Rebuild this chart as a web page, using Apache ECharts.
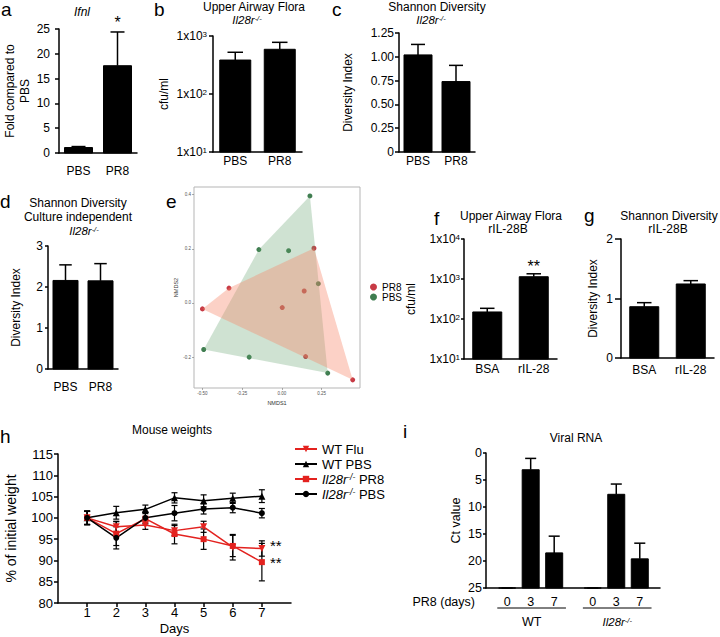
<!DOCTYPE html>
<html><head><meta charset="utf-8">
<script src="https://cdn.jsdelivr.net/npm/echarts@6/dist/echarts.min.js"></script>
<style>html,body{margin:0;padding:0;background:#fff}#c{width:720px;height:637px}</style>
</head><body><div id="c"></div>
<script>
const FONT = '"Liberation Sans", Arial, Helvetica, sans-serif';

// ---- panel a
const aCats = ['PBS', 'PR8'];
const aMean = [1.1, 17.6];
const aErr = [1.3, 24.4];
const aSig = ['', '*'];
// ---- panel b
const bCats = ['PBS', 'PR8'];
const bMean = [385, 590];
const bErr = [524, 778];
// ---- panel c
const cCats = ['PBS', 'PR8'];
const cMean = [1.02, 0.74];
const cErr = [1.13, 0.91];
// ---- panel d
const dCats = ['PBS', 'PR8'];
const dMean = [2.16, 2.15];
const dErr = [2.54, 2.57];
// ---- panel e (NMDS)
const ePR8 = [[-0.5, -0.022], [-0.333, 0.055], [0.2015, 0.202], [0.14, 0.044], [0.002, -0.017], [0.149, -0.198], [0.445, -0.284]];
const ePBS = [[0.176, 0.395], [-0.145, 0.197], [0.042, 0.193], [0.229, 0.071], [-0.492, -0.172], [-0.206, -0.2], [0.288, -0.259]];
const eTicksX = [-0.5, -0.25, 0, 0.25];
const eTicksY = [-0.2, 0, 0.2, 0.4];
// ---- panel f
const fCats = ['BSA', 'rIL-28'];
const fMean = [150, 1140];
const fErr = [185, 1350];
const fSig = ['', '**'];
// ---- panel g
const gCats = ['BSA', 'rIL-28'];
const gMean = [0.862, 1.244];
const gErr = [0.93, 1.30];
// ---- panel h
const hDays = [1, 2, 3, 4, 5, 6, 7];
const hWTFlu = [100, 97.9, 98.3, 97.0, 97.9, 93.1, 92.8];
const hWTFluSem = [1.6, 1.3, 1.0, 1.2, 1.3, 3.0, 1.8];
const hWTPBS = [100, 101.2, 102.0, 104.7, 104.0, 104.6, 105.1];
const hWTPBSSem = [1.6, 1.5, 1.0, 1.2, 1.4, 1.2, 1.5];
const hKOPR8 = [100, 96.3, 99.8, 96.2, 95.0, 93.4, 89.6];
const hKOPR8Sem = [1.5, 2.8, 1.5, 2.3, 2.4, 2.5, 4.4];
const hKOPBS = [100, 95.3, 100.0, 101.1, 102.1, 102.4, 101.1];
const hKOPBSSem = [1.6, 2.6, 1.3, 1.8, 1.2, 1.2, 1.1];
const hSigSeries = ['WT Flu', 'Il28r-/- PR8'];
// ---- panel i
const iGroups = ['WT', 'Il28r-/-'];
const iDays = ['0', '3', '7', '0', '3', '7'];
const iCt = [25, 3.1, 18.5, 25, 7.65, 19.6];
const iErr = [25, 1.0, 15.4, 25, 5.75, 16.7];

// ---------------------------------------------------------------
const RICH = {
  i: {fontStyle: 'italic', fontSize: 11.5, fontFamily: FONT, color: '#000', fill: '#000', lineHeight: 11},
  s: {fontStyle: 'italic', fontSize: 7.5, fontFamily: FONT, verticalAlign: 'top', color: '#000', fill: '#000', lineHeight: 11},
  n: {fontSize: 12, fontFamily: FONT, color: '#000', fill: '#000'}
};
const RICH13 = {
  i: {fontStyle: 'italic', fontSize: 13, fontFamily: FONT, color: '#000'},
  s: {fontStyle: 'italic', fontSize: 8.5, fontFamily: FONT, verticalAlign: 'top', color: '#000'},
  n: {fontSize: 13, fontFamily: FONT, color: '#000'}
};
const SUP = {s: {fontSize: 8, fontFamily: FONT, verticalAlign: 'top', color: '#000'}};
function koText(name) { // 'Il28r-/-' -> rich text
  return name.replace('Il28r-/-', '{i|Il28r}{s|-/-}');
}

const grids = [], xAxes = [], yAxes = [], series = [], graphics = [];

function barRender(base, bw, capFrac, sig, sigOff, sigSize) {
  return function (params, api) {
    const x = api.value(0), v = api.value(1), e = api.value(2);
    const p = api.coord([x, v]), b = api.coord([x, base]), pe = api.coord([x, e]);
    const top = Math.min(p[1], b[1]), h = Math.abs(b[1] - p[1]);
    const cw = bw * capFrac;
    const children = [
      {type: 'rect', shape: {x: p[0] - bw / 2, y: top, width: bw, height: h}, style: {fill: '#000', stroke: '#000', lineWidth: 1}},
      {type: 'line', shape: {x1: p[0], y1: p[1], x2: p[0], y2: pe[1]}, style: {stroke: '#000', lineWidth: 1.5}},
      {type: 'line', shape: {x1: p[0] - cw / 2, y1: pe[1], x2: p[0] + cw / 2, y2: pe[1]}, style: {stroke: '#000', lineWidth: 1.5}}
    ];
    if (sig && sig[params.dataIndex]) {
      children.push({type: 'text', x: p[0], y: pe[1] - sigOff,
        style: {text: sig[params.dataIndex], fill: '#000', fontSize: sigSize, fontFamily: FONT, align: 'center', verticalAlign: 'middle', lineHeight: 12}});
    }
    return {type: 'group', children};
  };
}

function addBarPanel(g, cats, mean, err, o) {
  const gi = grids.length;
  grids.push({left: g[0], top: g[1], width: g[2], height: g[3], containLabel: false, outerBoundsMode: 'none'});
  xAxes.push({gridIndex: gi, type: 'category', data: cats, boundaryGap: true,
    axisLine: {show: true, onZero: false, lineStyle: {color: '#000', width: 1.5}},
    axisTick: {show: false},
    axisLabel: {color: '#000', fontSize: 12, fontFamily: FONT, margin: o.xMargin, interval: 0},
    splitLine: {show: false}});
  const y = {gridIndex: gi, type: o.log ? 'log' : 'value', min: o.min, max: o.max,
    axisLine: {show: true, onZero: false, lineStyle: {color: '#000', width: 1.5}},
    axisTick: {show: true, length: o.tick || 4, inside: false, lineStyle: {color: '#000', width: 1.5}},
    minorTick: {show: false},
    axisLabel: {color: '#000', fontSize: 12, fontFamily: FONT, margin: o.yMargin, formatter: o.fmt, rich: SUP},
    splitLine: {show: false},
    name: o.name, nameLocation: 'middle', nameGap: o.nameGap, nameRotate: 90,
    nameTextStyle: {color: '#000', fontSize: 12, fontFamily: FONT, lineHeight: 15}};
  if (o.log) { y.logBase = 10; } else { y.interval = o.interval; }
  yAxes.push(y);
  series.push({type: 'custom', xAxisIndex: gi, yAxisIndex: gi, clip: false, z: 3,
    data: cats.map((c, i) => [i, mean[i], err[i]]),
    renderItem: barRender(o.log ? o.min : 0, o.bw, 0.5, o.sig, o.sigOff || 8, o.sigSize || 16)});
}

const logFmt = v => '1x10{s|' + Math.round(Math.log10(v)) + '}';

// a
addBarPanel([59, 29, 78, 124], aCats, aMean, aErr, {min: 0, max: 25, interval: 5, bw: 28, xMargin: 12, yMargin: 9,
  name: 'Fold compared to\nPBS', nameGap: 24, sig: aSig, sigOff: 9});
// b
addBarPanel([213, 36, 89, 116], bCats, bMean, bErr, {log: true, min: 10, max: 1000, bw: 31, xMargin: 3, yMargin: 6,
  fmt: logFmt, name: 'cfu/ml', nameGap: 42});
// c
addBarPanel([399, 33, 76, 119], cCats, cMean, cErr, {min: 0, max: 1.25, interval: 0.25, bw: 28, xMargin: 3, yMargin: 5,
  fmt: v => v === 0 ? '0' : v.toFixed(2), name: 'Diversity Index', nameGap: 44});
// d
addBarPanel([48, 246, 70, 123], dCats, dMean, dErr, {min: 0, max: 3, interval: 1, bw: 25, xMargin: 12, yMargin: 5, tick: 3,
  name: 'Diversity Index', nameGap: 25});
// f
addBarPanel([464, 239, 93, 120], fCats, fMean, fErr, {log: true, min: 10, max: 10000, bw: 29, xMargin: 4, yMargin: 4, tick: 3,
  fmt: logFmt, name: 'cfu/ml', nameGap: 46, sig: fSig, sigOff: 7});
// g
addBarPanel([621, 239, 93, 119], gCats, gMean, gErr, {min: 0, max: 2, interval: 1, bw: 29, xMargin: 6, yMargin: 8, tick: 6,
  name: 'Diversity Index', nameGap: 21});

// ---- e: NMDS scatter with hulls
(function () {
  const gi = grids.length;
  grids.push({left: 194, top: 187, width: 166, height: 201, show: true, borderColor: '#b5b5b5', borderWidth: 1,
    backgroundColor: '#fff', containLabel: false, outerBoundsMode: 'none'});
  const tiny = {fontSize: 4.5, color: '#555', fontFamily: FONT};
  xAxes.push({gridIndex: gi, type: 'value', min: -0.553, max: 0.491,
    axisLine: {show: false, onZero: false}, splitLine: {show: false},
    axisTick: {show: true, customValues: eTicksX, length: 2, lineStyle: {color: '#777', width: 0.6}},
    axisLabel: Object.assign({customValues: eTicksX, margin: 3, formatter: v => v.toFixed(2)}, tiny),
    name: 'NMDS1', nameLocation: 'middle', nameGap: 12, nameTextStyle: {fontSize: 5.5, color: '#333', fontFamily: FONT}});
  yAxes.push({gridIndex: gi, type: 'value', min: -0.314, max: 0.428,
    axisLine: {show: false, onZero: false}, splitLine: {show: false},
    axisTick: {show: true, customValues: eTicksY, length: 2, lineStyle: {color: '#777', width: 0.6}},
    axisLabel: Object.assign({customValues: eTicksY, margin: 3, formatter: v => v.toFixed(1)}, tiny),
    name: 'NMDS2', nameLocation: 'middle', nameGap: 10, nameRotate: 90, nameTextStyle: {fontSize: 5.5, color: '#333', fontFamily: FONT}});
  function hull(pts) {
    const p = pts.slice().sort((a, b) => a[0] - b[0] || a[1] - b[1]);
    const cross = (o, a, b) => (a[0] - o[0]) * (b[1] - o[1]) - (a[1] - o[1]) * (b[0] - o[0]);
    const lo = [], up = [];
    for (const q of p) { while (lo.length >= 2 && cross(lo[lo.length - 2], lo[lo.length - 1], q) <= 0) lo.pop(); lo.push(q); }
    for (let i = p.length - 1; i >= 0; i--) { const q = p[i]; while (up.length >= 2 && cross(up[up.length - 2], up[up.length - 1], q) <= 0) up.pop(); up.push(q); }
    up.pop(); lo.pop();
    return lo.concat(up);
  }
  function hullSeries(pts, fill, z) {
    const h = hull(pts);
    return {type: 'custom', xAxisIndex: gi, yAxisIndex: gi, z, silent: true, data: [h[0]],
      renderItem: (params, api) => ({type: 'polygon', shape: {points: h.map(q => api.coord(q))}, style: {fill}})};
  }
  series.push({name: 'PR8', type: 'scatter', xAxisIndex: gi, yAxisIndex: gi, data: ePR8, symbolSize: 5, z: 2,
    itemStyle: {color: '#c73a45', opacity: 1}});
  series.push({name: 'PBS', type: 'scatter', xAxisIndex: gi, yAxisIndex: gi, data: ePBS, symbolSize: 5, z: 2,
    itemStyle: {color: '#3f7d50', opacity: 1}});
  series.push(hullSeries(ePBS, 'rgba(95,160,105,0.30)', 3));
  series.push(hullSeries(ePR8, 'rgba(246,135,105,0.38)', 4));
})();

// ---- h: mouse weights
(function () {
  const gi = grids.length;
  grids.push({left: 58, top: 454, width: 233, height: 149, containLabel: false, outerBoundsMode: 'none'});
  xAxes.push({gridIndex: gi, type: 'value', min: 0, max: 8, interval: 1,
    axisLine: {show: true, onZero: false, lineStyle: {color: '#000', width: 1.5}},
    axisTick: {show: true, customValues: hDays, length: 4, lineStyle: {color: '#000', width: 1.5}},
    axisLabel: {customValues: hDays, color: '#000', fontSize: 13, fontFamily: FONT, margin: 3},
    splitLine: {show: false},
    name: 'Days', nameLocation: 'middle', nameGap: 19, nameTextStyle: {color: '#000', fontSize: 13, fontFamily: FONT}});
  yAxes.push({gridIndex: gi, type: 'value', min: 80, max: 115, interval: 5,
    axisLine: {show: true, onZero: false, lineStyle: {color: '#000', width: 1.5}},
    axisTick: {show: true, length: 4, lineStyle: {color: '#000', width: 1.5}},
    axisLabel: {color: '#000', fontSize: 13, fontFamily: FONT, margin: 5},
    splitLine: {show: false},
    name: '% of initial weight', nameLocation: 'middle', nameGap: 40, nameRotate: 90,
    nameTextStyle: {color: '#000', fontSize: 14, fontFamily: FONT}});
  const defs = [
    {name: 'WT Flu', vals: hWTFlu, sem: hWTFluSem, color: '#e3221f', symbol: 'triangle', rot: 180, size: 7},
    {name: 'WT PBS', vals: hWTPBS, sem: hWTPBSSem, color: '#000', symbol: 'triangle', rot: 0, size: 7},
    {name: 'Il28r-/- PR8', vals: hKOPR8, sem: hKOPR8Sem, color: '#e3221f', symbol: 'rect', rot: 0, size: 6},
    {name: 'Il28r-/- PBS', vals: hKOPBS, sem: hKOPBSSem, color: '#000', symbol: 'circle', rot: 0, size: 6}
  ];
  defs.forEach(d => {
    series.push({type: 'custom', xAxisIndex: gi, yAxisIndex: gi, z: 2, silent: true,
      data: hDays.map((x, i) => [x, d.vals[i] - d.sem[i], d.vals[i] + d.sem[i]]),
      renderItem: (params, api) => {
        const x = api.value(0);
        const a = api.coord([x, api.value(1)]), b = api.coord([x, api.value(2)]);
        const cw = 3;
        return {type: 'group', children: [
          {type: 'line', shape: {x1: a[0], y1: a[1], x2: b[0], y2: b[1]}, style: {stroke: '#000', lineWidth: 1.2}},
          {type: 'line', shape: {x1: a[0] - cw, y1: a[1], x2: a[0] + cw, y2: a[1]}, style: {stroke: '#000', lineWidth: 1.2}},
          {type: 'line', shape: {x1: b[0] - cw, y1: b[1], x2: b[0] + cw, y2: b[1]}, style: {stroke: '#000', lineWidth: 1.2}}
        ]};
      }});
  });
  defs.forEach(d => {
    series.push({name: d.name, type: 'line', xAxisIndex: gi, yAxisIndex: gi, z: 4,
      data: hDays.map((x, i) => [x, d.vals[i]]),
      symbol: d.symbol, symbolRotate: d.rot, symbolSize: d.size, showSymbol: true,
      lineStyle: {color: d.color, width: 1.5}, itemStyle: {color: d.color}});
  });
  // significance stars at the last day (upper one nudged up, lower one nudged down so they stay apart)
  const last = hDays.length - 1;
  const sigPts = defs.filter(d => hSigSeries.indexOf(d.name) >= 0).map(d => [hDays[last], d.vals[last]]);
  series.push({type: 'custom', xAxisIndex: gi, yAxisIndex: gi, z: 5, silent: true, clip: false, data: sigPts,
    renderItem: (params, api) => {
      const p = api.coord([api.value(0), api.value(1)]);
      const dy = params.dataIndex === 0 ? -3.5 : 0.5;
      return {type: 'text', x: p[0] + 8, y: p[1] + dy,
        style: {text: '**', fontSize: 15, fontFamily: FONT, fill: '#000', align: 'left', verticalAlign: 'middle', lineHeight: 10}};
    }});
})();

// ---- i: viral RNA
(function () {
  const gi = grids.length;
  grids.push({left: 486, top: 453, width: 174, height: 135, containLabel: false, outerBoundsMode: 'none'});
  const perGroup = iDays.length / iGroups.length;
  const iPos = iDays.map((d, k) => 0.9 + k + Math.floor(k / perGroup) * 0.64);
  xAxes.push({gridIndex: gi, type: 'value', min: 0, max: 7.4,
    axisLine: {show: true, onZero: false, lineStyle: {color: '#000', width: 1.5}},
    axisTick: {show: false},
    axisLabel: {customValues: iPos, color: '#000', fontSize: 12.5, fontFamily: FONT, margin: 7,
      formatter: v => { const k = iPos.findIndex(p => Math.abs(p - v) < 1e-6); return k >= 0 ? iDays[k] : ''; }},
    splitLine: {show: false}});
  yAxes.push({gridIndex: gi, type: 'value', min: 0, max: 25, interval: 5, inverse: true,
    axisLine: {show: true, onZero: false, lineStyle: {color: '#000', width: 1.5}},
    axisTick: {show: true, length: 3, lineStyle: {color: '#000', width: 1.5}},
    axisLabel: {color: '#000', fontSize: 12.5, fontFamily: FONT, margin: 4},
    splitLine: {show: false},
    name: 'Ct value', nameLocation: 'middle', nameGap: 24, nameRotate: 90,
    nameTextStyle: {color: '#000', fontSize: 12.5, fontFamily: FONT}});
  series.push({type: 'custom', xAxisIndex: gi, yAxisIndex: gi, z: 3, clip: false,
    data: iCt.map((v, k) => [iPos[k], v, iErr[k]]),
    renderItem: barRender(25, 17, 0.65, null, 0, 0)});
  series.push({type: 'custom', xAxisIndex: gi, yAxisIndex: gi, z: 3, clip: false, silent: true,
    data: iGroups.map((g, k) => [iPos[k * perGroup], iPos[k * perGroup + perGroup - 1]]),
    renderItem: (params, api) => {
      const a = api.coord([api.value(0) - 0.42, 25]), b = api.coord([api.value(1) + 0.5, 25]);
      const y = a[1] + 20;
      return {type: 'group', children: [
        {type: 'line', shape: {x1: a[0], y1: y, x2: b[0], y2: y}, style: {stroke: '#000', lineWidth: 1}},
        {type: 'text', x: (a[0] + b[0]) / 2, y: y + 14,
          style: {text: koText(iGroups[params.dataIndex]), rich: RICH, fontSize: 12.5, fontFamily: FONT, fill: '#000', align: 'center', verticalAlign: 'middle'}}
      ]};
    }});
})();

// ---- text annotations
function T(x, y, text, size, extra) {
  return {type: 'text', x, y, silent: true,
    style: Object.assign({text, fontSize: size, fontFamily: FONT, fill: '#000', align: 'center', verticalAlign: 'middle', lineHeight: 11, rich: RICH}, extra || {})};
}
const L = {align: 'left', lineHeight: 16};
graphics.push(
  T(1, 9, 'a', 19, L), T(154, 9.5, 'b', 19, L), T(332, 9.5, 'c', 19, L),
  T(0, 201.5, 'd', 19, L), T(166, 201.5, 'e', 19, L), T(434, 218.5, 'f', 19, L),
  T(584, 215.5, 'g', 19, L), T(0, 436.5, 'h', 19, L), T(403, 431.5, 'i', 19, L),
  T(82, 12, 'Ifnl', 12, {fontStyle: 'italic'}),
  T(254, 6.5, 'Upper Airway Flora', 12), T(247, 20, koText('Il28r-/-'), 12),
  T(437, 6.5, 'Shannon Diversity', 12), T(431, 20, koText('Il28r-/-'), 12),
  T(78, 203, 'Shannon Diversity', 12), T(78, 217, 'Culture independent', 12), T(84, 230.5, koText('Il28r-/-'), 12),
  T(511, 215.5, 'Upper Airway Flora', 12), T(508, 228.5, 'rIL-28B', 12),
  T(669, 215.5, 'Shannon Diversity', 12), T(668, 228.5, 'rIL-28B', 12),
  T(172, 430, 'Mouse weights', 12),
  T(576, 438, 'Viral RNA', 12),
  T(475, 602, 'PR8 (days)', 12.5, {align: 'right'})
);

const option = {
  animation: false,
  backgroundColor: '#fff',
  textStyle: {fontFamily: FONT},
  grid: grids, xAxis: xAxes, yAxis: yAxes, series,
  legend: [
    {data: ['PR8', 'PBS'], left: 365, top: 277, orient: 'vertical', icon: 'circle', itemWidth: 7, itemHeight: 7, itemGap: 0,
      selectedMode: false, textStyle: {fontSize: 10, fontFamily: FONT, color: '#000', lineHeight: 9}},
    {data: ['WT Flu', 'WT PBS', 'Il28r-/- PR8', 'Il28r-/- PBS'], left: 289, top: 437.5, orient: 'vertical',
      itemWidth: 22, itemHeight: 8, itemGap: 2, selectedMode: false,
      formatter: n => koText(n), textStyle: {fontSize: 13, fontFamily: FONT, color: '#000', lineHeight: 13, rich: RICH13}}
  ],
  graphic: {elements: graphics}
};
const chart = echarts.init(document.getElementById('c'), null, {renderer: 'svg', width: 720, height: 637});
chart.setOption(option);
</script>
</body></html>
